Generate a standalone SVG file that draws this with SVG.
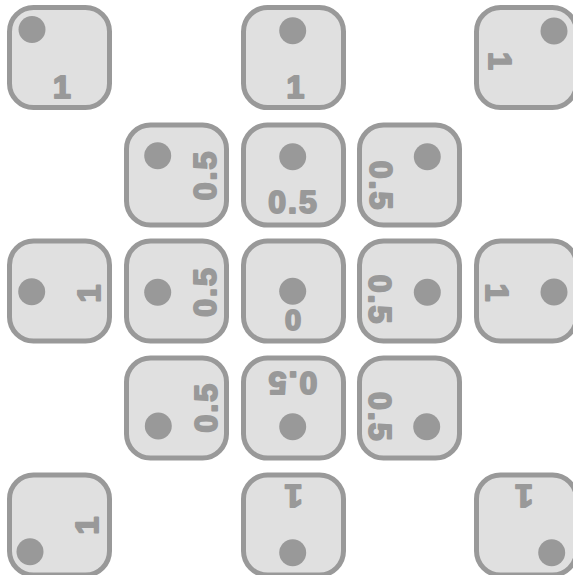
<svg xmlns="http://www.w3.org/2000/svg" width="573" height="575" viewBox="0 0 573 575">
  <style>
    .tile{fill:#e0e0e0;stroke:#999999;stroke-width:5}
    .dot{fill:#999999}
    .lbl{fill:#999999;stroke:#999999;stroke-width:2;stroke-linejoin:round;font-family:"Liberation Sans",Arial,sans-serif;font-weight:bold;font-size:32px;text-anchor:middle}
    .half{letter-spacing:2px}
  </style>
  <rect width="573" height="575" fill="#ffffff"/>
  <defs>
    <rect id="t" class="tile" x="-50" y="-50" width="100" height="100" rx="24" ry="24"/>
  </defs>
  <g id="connectors"></g>
  <g id="tile-0-0"><use href="#t" x="59.5" y="57.5"/><circle class="dot" cx="32" cy="29.5" r="13.5"/><text class="lbl" transform="translate(60.5,86) rotate(0)" x="1.5" y="11.5">1</text></g>
  <g id="tile-0-2"><use href="#t" x="293.5" y="57.5"/><circle class="dot" cx="292.7" cy="30.7" r="13.5"/><text class="lbl" transform="translate(293.8,86) rotate(0)" x="1.5" y="11.5">1</text></g>
  <g id="tile-0-4"><use href="#t" x="526.5" y="57.5"/><circle class="dot" cx="554" cy="31" r="13.5"/><text class="lbl" transform="translate(500,59.5) rotate(90)" x="1.5" y="11.5">1</text></g>

  <g id="tile-1-1"><use href="#t" x="176.5" y="175"/><circle class="dot" cx="157.7" cy="155.7" r="13.5"/><text class="lbl half" transform="translate(204.5,176) rotate(-90)" x="1" y="11.5">0.5</text></g>
  <g id="tile-1-2"><use href="#t" x="293.5" y="175"/><circle class="dot" cx="292.7" cy="156.7" r="13.5"/><text class="lbl half" transform="translate(292.5,201.7) rotate(0)" x="1" y="11.5">0.5</text></g>
  <g id="tile-1-3"><use href="#t" x="409.5" y="175"/><circle class="dot" cx="427.3" cy="156.7" r="13.5"/><text class="lbl half" transform="translate(381.7,185) rotate(90)" x="1" y="11.5">0.5</text></g>

  <g id="tile-2-0"><use href="#t" x="59.5" y="291"/><circle class="dot" cx="31.7" cy="291.7" r="13.5"/><text class="lbl" transform="translate(88.3,295) rotate(-90)" x="1.5" y="11.5">1</text></g>
  <g id="tile-2-1"><use href="#t" x="176.5" y="291"/><circle class="dot" cx="157.7" cy="292.3" r="13.5"/><text class="lbl half" transform="translate(204.7,292.5) rotate(-90)" x="1" y="11.5">0.5</text></g>
  <g id="tile-2-2"><use href="#t" x="293.5" y="291"/><circle class="dot" cx="292.7" cy="291.3" r="13.5"/><text class="lbl" transform="translate(293,319.2) rotate(0)" x="0" y="10.5" style="font-size:29px">0</text></g>
  <g id="tile-2-3"><use href="#t" x="409.5" y="291"/><circle class="dot" cx="427.3" cy="292.3" r="13.5"/><text class="lbl half" transform="translate(380.8,299) rotate(90)" x="1" y="11.5">0.5</text></g>
  <g id="tile-2-4"><use href="#t" x="526.5" y="291"/><circle class="dot" cx="554" cy="292" r="13.5"/><text class="lbl" transform="translate(497.8,290.8) rotate(90)" x="1.5" y="11.5">1</text></g>

  <g id="tile-3-1"><use href="#t" x="176.5" y="408"/><circle class="dot" cx="158.3" cy="426" r="13.5"/><text class="lbl half" transform="translate(205,408.3) rotate(-90)" x="1" y="11.5">0.5</text></g>
  <g id="tile-3-2"><use href="#t" x="293.5" y="408"/><circle class="dot" cx="292.7" cy="426.7" r="13.5"/><text class="lbl half" transform="translate(293,383.8) rotate(180)" x="1" y="11.5">0.5</text></g>
  <g id="tile-3-3"><use href="#t" x="409.5" y="408"/><circle class="dot" cx="426.7" cy="426.7" r="13.5"/><text class="lbl half" transform="translate(380.8,416.3) rotate(90)" x="1" y="11.5">0.5</text></g>

  <g id="tile-4-0"><use href="#t" x="59.5" y="525"/><circle class="dot" cx="30" cy="551.7" r="13.5"/><text class="lbl" transform="translate(86.2,527) rotate(-90)" x="1.5" y="11.5">1</text></g>
  <g id="tile-4-2"><use href="#t" x="293.5" y="525"/><circle class="dot" cx="292.7" cy="552.7" r="13.5"/><text class="lbl" transform="translate(295,496.3) rotate(180)" x="1.5" y="11.5">1</text></g>
  <g id="tile-4-4"><use href="#t" x="526.5" y="525"/><circle class="dot" cx="551.7" cy="552.7" r="13.5"/><text class="lbl" transform="translate(525.5,496.3) rotate(180)" x="1.5" y="11.5">1</text></g>
</svg>
